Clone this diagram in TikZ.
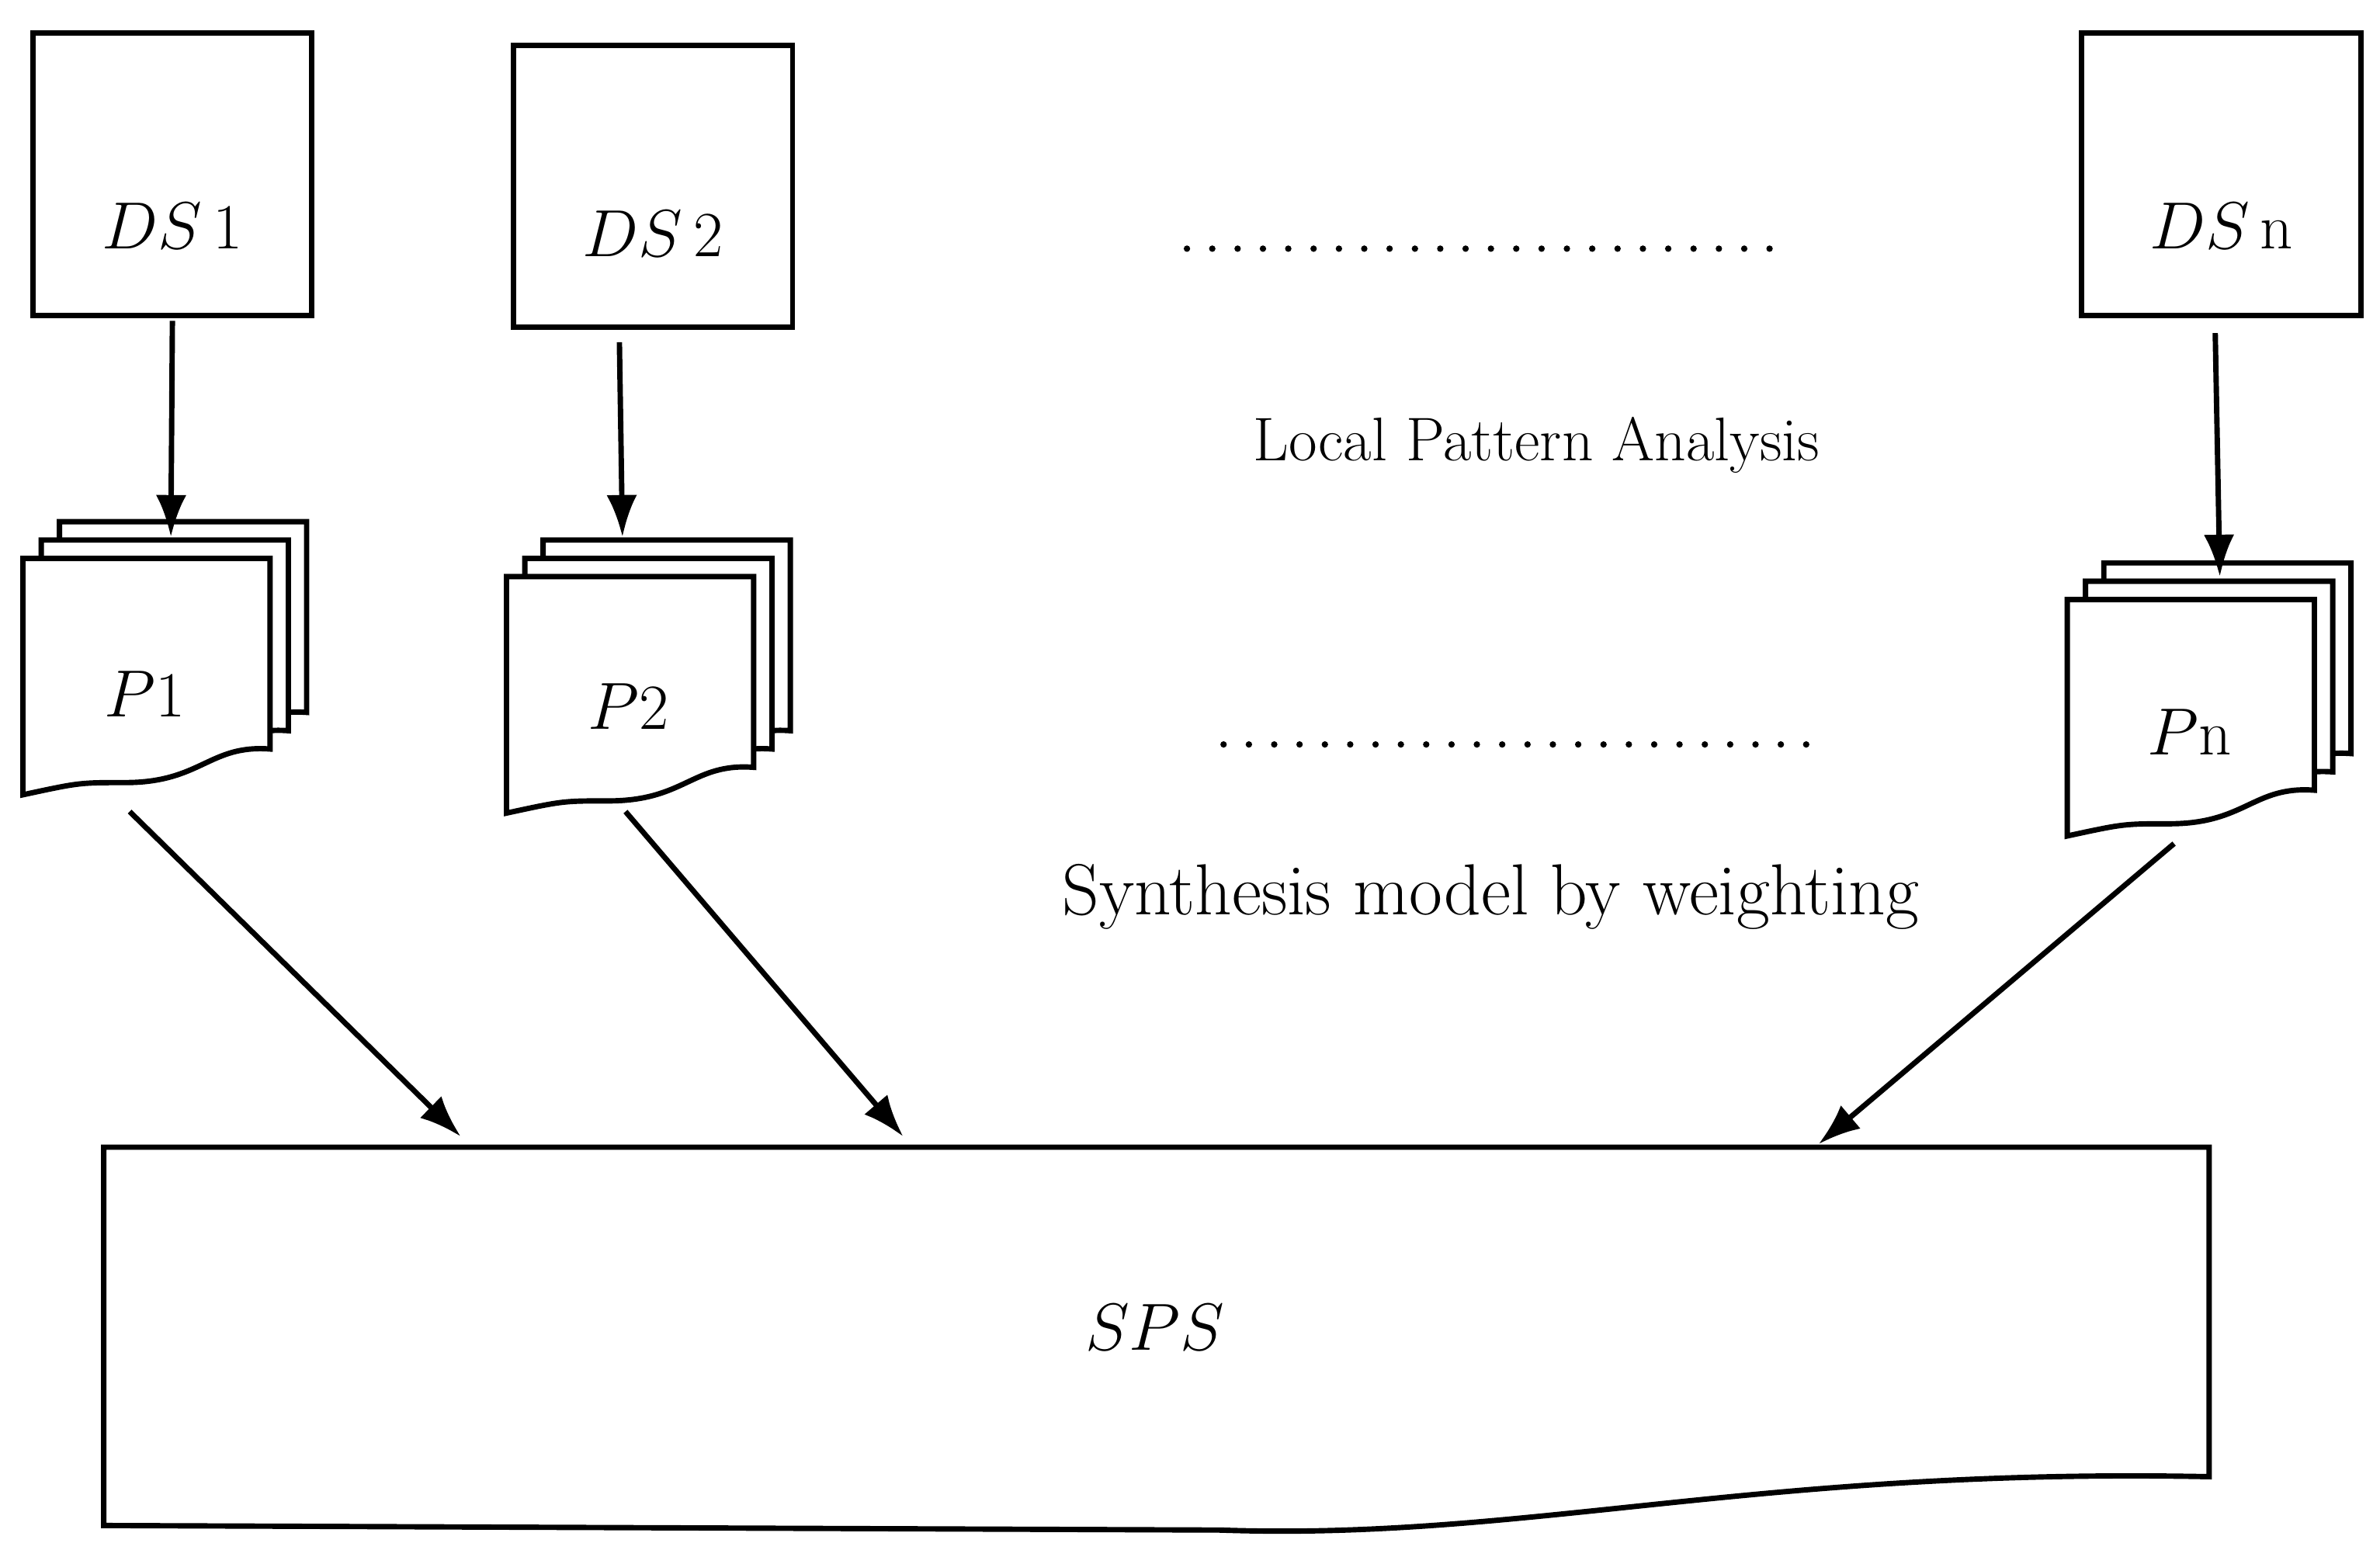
\documentclass[tikz,border=0pt]{standalone}
\usetikzlibrary{shapes.geometric,arrows.meta}
\tikzset{
  base/.style={line width=2pt},
  db/.style={base, draw, shape=cylinder, shape border rotate=90, aspect=0.6,
    minimum width=3.66cm, minimum height=3.7cm, inner sep=0pt},
  lbl/.style={font=\fontsize{24}{28}\selectfont},
  arr/.style={base, -{Latex[length=5.5mm,width=4mm]}},
  sheet/.style={base, draw, fill=white},
  dots/.style={line width=2.4pt, dash pattern=on 0pt off 9.45pt, line cap=round}
}
% one page of a stack: top-left x, y
\newcommand{\onesheet}[2]{%
  \draw [sheet] (#1,#2) -- ++(162,0) -- ++(0,125)
    .. controls ++(-40,-3) and ++(50,0) .. ++(-95,22)
    .. controls ++(-30,0) .. (#1,#2+155) -- cycle;}
\newcommand{\pagestack}[2]{%
  \onesheet{#1+24}{#2-24}
  \onesheet{#1+12}{#2-12}
  \onesheet{#1}{#2}}
\begin{document}
\begin{tikzpicture}[x=0.02cm, y=-0.02cm]
\useasboundingbox (0,0) rectangle (1560,1025);

\node [db] (ds1) at (113,115) {};
\node [db] (ds2) at (428,123) {};
\node [db] (dsn) at (1456,115) {};
\node [lbl] (t1) at (113,148) {$DS$\,1};
\node [lbl] (t2) at (428,153) {$DS$\,2};
\node [lbl] (tn) at (1456,148) {$DS$\,n};

\pagestack{15}{366}
\pagestack{332}{378}
\pagestack{1355}{393}
\node [lbl] (p1) at (95,455) {$P$1};
\node [lbl] (p2) at (412,463) {$P$2};
\node [lbl] (pn) at (1435,480) {$P$n};
\coordinate (p1top) at (112,352);
\coordinate (p2top) at (408,352);
\coordinate (pntop) at (1455,378);
\coordinate (p1bot) at (85,532);
\coordinate (p2bot) at (410,532);
\coordinate (pnbot) at (1425,553);

\draw [base] (68,752) -- (1448,752) -- (1448,968)
  .. controls (1150,962) and (1000,1010) .. (800,1003) -- (68,1000) -- cycle;
\node [lbl] (sps) at (757,870) {$SPS$};
\coordinate (in1) at (302,745);
\coordinate (in2) at (592,745);
\coordinate (inn) at (1192,750);

\draw [arr] (ds1.south) ++(0,2) -- (p1top);
\draw [arr] (ds2.south) ++(-22,8) -- (p2top);
\draw [arr] (dsn.south) ++(-4,10) -- (pntop);
\draw [arr] (p1bot) -- (in1);
\draw [arr] (p2bot) -- (in2);
\draw [arr] (pnbot) -- (inn);

\node [font=\fontsize{23}{27}\selectfont] (lpa) at (1007,292) {Local Pattern Analysis};
\node [font=\fontsize{27}{32}\selectfont] (smw) at (977,588) {Synthesis model by weighting};
\coordinate (d1a) at (778,163);
\coordinate (d1b) at (1175,163);
\coordinate (d2a) at (802,488);
\coordinate (d2b) at (1197,488);
\draw [dots] (d1a) -- (d1b);
\draw [dots] (d2a) -- (d2b);
\end{tikzpicture}
\end{document}
